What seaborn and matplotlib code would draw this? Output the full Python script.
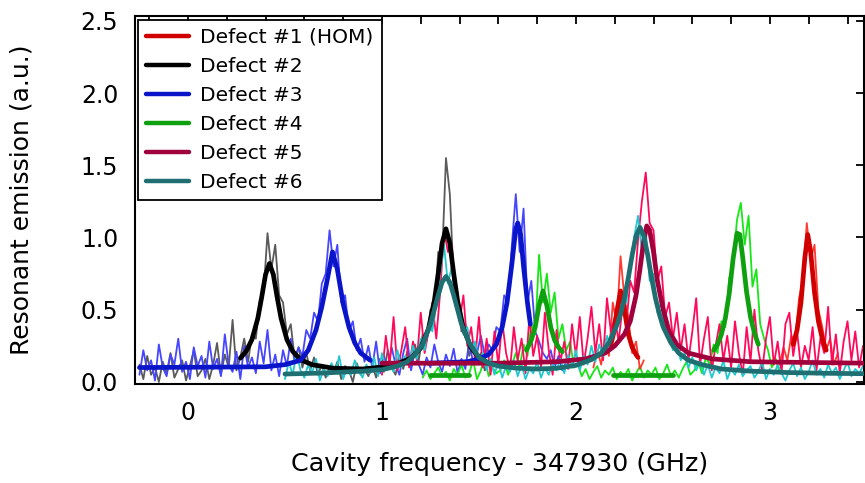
import numpy as np
import pandas as pd
import matplotlib
matplotlib.use("Agg")
import matplotlib.pyplot as plt
from matplotlib.ticker import MultipleLocator, FormatStrFormatter
import seaborn as sns

nan = float("nan")
STEP = 0.02  # spectral sampling of the measured traces (GHz)

# ---------------- measured traces (resonant emission, a.u.) ----------------
d1_data_a_x0 = 2.09
d1_data_a = [0.10, 0.22, 0.12, 0.30, 0.18, 0.55, 0.40, 0.87, 0.58, 0.45, 0.20, 0.28, 0.09, 0.15]
d1_data_b_x0 = 3.05
d1_data_b = [0.12, 0.24, 0.15, 0.32, 0.28, 0.58, 0.70, 1.10, 0.85, 0.95, 0.50, 0.38, 0.22, 0.30, 0.12, 0.20]

d2_data_x0 = -0.25
d2_data = [0.12, 0.02, 0.18, 0.05, 0.10, 0.00, 0.14, 0.06, 0.20, 0.03,
           0.09, 0.15, 0.01, 0.11, 0.22, 0.04, 0.08, 0.16, 0.02, 0.12,
           0.27, 0.05, 0.19, 0.10, 0.43, 0.08, 0.17, 0.30, 0.14, 0.33,
           0.30, 0.56, 0.62, 1.03, 0.78, 0.95, 0.60, 0.55, 0.33, 0.40,
           0.16, 0.24, 0.10, 0.20, 0.08, 0.17, 0.05, 0.12, 0.03, 0.10,
           0.06, 0.14, 0.02, 0.11, 0.08, 0.00, 0.13, 0.05, 0.09, 0.04,
           0.12, 0.03, 0.16, 0.07, 0.22, 0.10, 0.05, 0.18, 0.09, 0.21,
           0.12, 0.26, 0.15, 0.33, 0.28, 0.50, 0.44, 0.90, 0.85, 1.55,
           1.30, 0.70, 0.62, 0.35, 0.40, 0.18, 0.27, 0.12, 0.20, 0.08,
           0.15]

d3_data_x0 = -0.25
d3_data = [0.05, 0.22, 0.08, 0.15, 0.01, 0.26, 0.10, 0.04, 0.19, 0.12,
           0.30, 0.07, 0.14, 0.02, 0.24, 0.11, 0.18, 0.03, 0.28, 0.09,
           0.16, 0.04, 0.33, 0.12, 0.07, 0.21, 0.02, 0.25, 0.10, 0.17,
           0.06, 0.28, 0.13, 0.36, 0.08, 0.19, 0.04, 0.22, 0.11, 0.30,
           0.14, 0.24, 0.18, 0.36, 0.30, 0.48, 0.42, 0.68, 0.75, 1.05,
           0.80, 0.95, 0.55, 0.60, 0.35, 0.42, 0.22, 0.30, 0.14, 0.25,
           0.10, 0.28, 0.06, 0.18, 0.09, 0.24, 0.12, 0.05, 0.20, 0.30,
           0.08, 0.22, 0.12, 0.05, 0.17, 0.10, 0.26, 0.14, 0.07, 0.19,
           0.11, 0.23, 0.06, 0.16, 0.09, 0.28, 0.13, 0.20, 0.32, 0.18,
           0.26, 0.22, 0.38, 0.35, 0.60, 0.55, 0.95, 1.30, 0.90, 1.20,
           0.55, 0.70, 0.35, 0.28, 0.20, 0.16, 0.22, 0.10, 0.18, 0.08, 0.14]

d4_data_x0 = 1.21
d4_data = [0.03, 0.08, 0.02, 0.06, 0.10, 0.04, 0.07, 0.01, 0.09, 0.05,
           0.12, 0.03, 0.06, 0.15, 0.02, 0.08, 0.18, 0.04, 0.10, 0.06,
           0.08, 0.15, 0.05, 0.12, 0.20, 0.10, 0.26, 0.18, 0.40, 0.33,
           0.88, 0.55, 0.75, 0.48, 0.62, 0.30, 0.40, 0.22, 0.28, 0.10,
           0.12, 0.04, 0.09, 0.02, 0.07, 0.11, 0.03, 0.08, 0.05, 0.10,
           0.02, 0.07, 0.04, 0.09, 0.01, 0.06, 0.11, 0.03, 0.08, 0.05,
           0.10, 0.02, 0.06, 0.12, 0.04, 0.08, 0.03, 0.09, 0.14, 0.05,
           0.08, 0.14, 0.06, 0.17, 0.12, 0.26, 0.20, 0.42, 0.38, 0.72,
           0.80, 1.12, 1.24, 0.95, 1.15, 0.66, 0.78, 0.40, 0.30, 0.22,
           0.10, 0.16, 0.06]

d5_data_x0 = 1.00
d5_data = [0.05, 0.32, 0.12, 0.45, 0.08, 0.22, 0.38, 0.10, 0.28, 0.15,
           0.48, 0.20, 0.35, 0.55, 0.30, 0.62, 1.05, 0.90, 0.95, 0.55,
           0.42, 0.60, 0.25, 0.38, 0.15, 0.45, 0.10, 0.30, 0.05, 0.35,
           0.12, 0.42, 0.20, 0.08, 0.38, 0.15, 0.30, 0.06, 0.45, 0.18,
           0.32, 0.10, 0.48, 0.22, 0.05, 0.36, 0.14, 0.28, 0.09, 0.40,
           0.18, 0.45, 0.12, 0.30, 0.52, 0.20, 0.40, 0.15, 0.58, 0.35,
           0.45, 0.28, 0.52, 0.40, 0.70, 0.62, 0.98, 1.25, 1.45, 1.10,
           1.05, 0.70, 0.80, 0.45, 0.55, 0.30, 0.48, 0.22, 0.40, 0.15,
           0.35, 0.58, 0.12, 0.30, 0.45, 0.08, 0.25, 0.40, 0.15, 0.32,
           0.10, 0.42, 0.20, 0.05, 0.38, 0.14, 0.50, 0.22, 0.08, 0.30,
           0.45, 0.12, 0.28, 0.06, 0.40, 0.48, 0.18, 0.35, 0.10, 0.25,
           0.15, 0.38, 0.08, 0.30, 0.20, 0.52, 0.12, 0.33, 0.06, 0.28,
           0.42, 0.15, 0.35, 0.10, 0.25, 0.18]

d6_data_x0 = 0.50
d6_data = [0.02, 0.14, 0.05, 0.20, 0.08, 0.03, 0.12, 0.06, 0.16, 0.01,
           0.09, 0.04, 0.13, 0.07, 0.18, 0.02, 0.10, 0.05, 0.15, 0.08,
           0.03, 0.12, 0.06, 0.17, 0.04, 0.20, 0.09, 0.14, 0.07, 0.22,
           0.10, 0.18, 0.12, 0.25, 0.16, 0.30, 0.22, 0.40, 0.35, 0.58,
           0.75, 0.95, 0.68, 0.80, 0.52, 0.46, 0.33, 0.38, 0.22, 0.28,
           0.12, 0.20, 0.08, 0.16, 0.05, 0.14, 0.03, 0.11, 0.07, 0.15,
           0.04, 0.12, 0.02, 0.09, 0.06, 0.14, 0.03, 0.10, 0.05, 0.13,
           0.08, 0.16, 0.06, 0.19, 0.10, 0.22, 0.08, 0.18, 0.12, 0.25,
           0.14, 0.26, 0.18, 0.32, 0.24, 0.38, 0.45, 0.60, 0.55, 0.82,
           1.00, 1.15, 0.90, 1.05, 0.70, 0.75, 0.48, 0.55, 0.35, 0.30,
           0.22, 0.28, 0.15, 0.20, 0.10, 0.17, 0.08, 0.14, 0.05, 0.12,
           0.03, 0.10, 0.06, 0.15, 0.02, 0.09, 0.05, 0.12, 0.04, 0.08,
           0.11, 0.03, 0.07, 0.14, 0.02, 0.09, 0.05, 0.12, 0.06, 0.01,
           0.08, 0.13, 0.04, 0.10, 0.02, 0.07, 0.15, 0.05, 0.09, 0.03,
           0.12, 0.06, 0.10, 0.02, 0.08, 0.14, 0.04, 0.09, 0.06, 0.11,
           0.05]

# ---------------- fitted curves (nan separates fit segments) ----------------
d1_fit_x = [2.18, 2.195, 2.21, 2.23, 2.25, 2.27, 2.29, 2.31, 2.32, nan,
            3.12, 3.14, 3.16, 3.18, 3.195, 3.21, 3.23, 3.25, 3.27, 3.29]
d1_fit_y = [0.26, 0.34, 0.48, 0.63, 0.50, 0.33, 0.24, 0.19, 0.17, nan,
            0.26, 0.36, 0.55, 0.86, 1.02, 0.90, 0.62, 0.42, 0.30, 0.22]

d2_fit_x = [0.27, 0.30, 0.33, 0.36, 0.38, 0.40, 0.42, 0.44, 0.46,
            0.48, 0.51, 0.54, 0.58, 0.64, 0.75, 0.90, 1.05, 1.15, 1.20, 1.24, 1.27,
            1.29, 1.31, 1.33, 1.35, 1.37, 1.39, 1.42, 1.46, 1.50, 1.55]
d2_fit_y = [0.165, 0.212, 0.294, 0.44, 0.586, 0.744, 0.82, 0.744, 0.586,
            0.44, 0.294, 0.212, 0.154, 0.12, 0.095, 0.09, 0.11, 0.165, 0.235, 0.368, 0.56,
            0.75, 0.96, 1.06, 0.96, 0.75, 0.56, 0.37, 0.235, 0.17, 0.13]

d3_fit_x = [-0.25, 0.40, 0.50, 0.58, 0.62, 0.66, 0.69, 0.72, 0.745, 0.77, 0.80, 0.83,
            0.86, 0.89, 0.94, nan,
            1.24, 1.35, 1.44, 1.50, 1.55, 1.59, 1.62, 1.645, 1.67, 1.69, 1.70, 1.715,
            1.73, 1.75, 1.765]
d3_fit_y = [0.10, 0.105, 0.12, 0.15, 0.22, 0.36, 0.52, 0.72, 0.90, 0.78, 0.54, 0.38,
            0.27, 0.20, 0.15, nan,
            0.13, 0.135, 0.14, 0.16, 0.19, 0.26, 0.38, 0.55, 0.82, 1.06, 1.10, 1.02,
            0.80, 0.55, 0.40]

d4_fit_x = [1.25, 1.45, nan,
            1.745, 1.77, 1.79, 1.81, 1.83, 1.85, 1.87, 1.89, 1.91, 1.93, nan,
            2.19, 2.50, nan,
            2.71, 2.73, 2.75, 2.77, 2.79, 2.81, 2.83, 2.845, 2.86, 2.88, 2.90, 2.92, 2.94]
d4_fit_y = [0.05, 0.05, nan,
            0.22, 0.29, 0.38, 0.53, 0.63, 0.53, 0.38, 0.29, 0.24, 0.21, nan,
            0.05, 0.05, nan,
            0.22, 0.26, 0.33, 0.44, 0.61, 0.85, 1.03, 1.02, 0.86, 0.62, 0.45, 0.34, 0.26]

d5_fit_x = [1.00, 1.60, 1.90, 2.05, 2.15, 2.20, 2.25, 2.28, 2.31, 2.33, 2.35, 2.365,
            2.38, 2.40, 2.42, 2.45, 2.48, 2.52, 2.58, 2.70, 2.90, 3.50]
d5_fit_y = [0.13, 0.13, 0.14, 0.16, 0.20, 0.25, 0.33, 0.42, 0.60, 0.78, 0.98, 1.08,
            1.05, 0.90, 0.70, 0.50, 0.35, 0.26, 0.20, 0.16, 0.14, 0.13]

d6_fit_x = [0.50, 0.70, 0.90, 1.00, 1.08, 1.13, 1.17, 1.21, 1.25, 1.27, 1.29, 1.31,
            1.33, 1.35, 1.37, 1.39, 1.41, 1.45, 1.50, 1.55, 1.60, 1.70, 1.80, 1.90,
            2.00, 2.08, 2.13, 2.17, 2.21, 2.23, 2.25, 2.27, 2.29, 2.31, 2.33, 2.35,
            2.37, 2.39, 2.41, 2.43, 2.45, 2.49, 2.53, 2.58, 2.65, 2.75, 2.90, 3.10,
            3.30, 3.50]
d6_fit_y = [0.055, 0.062, 0.075, 0.085, 0.11, 0.14, 0.19, 0.26, 0.40, 0.50, 0.60, 0.69,
            0.73, 0.69, 0.60, 0.50, 0.40, 0.27, 0.17, 0.13, 0.11, 0.095, 0.09, 0.095,
            0.115, 0.155, 0.20, 0.27, 0.39, 0.47, 0.58, 0.72, 0.88, 1.01, 1.07, 1.01,
            0.88, 0.72, 0.58, 0.47, 0.38, 0.27, 0.20, 0.15, 0.12, 0.09, 0.075, 0.065,
            0.06, 0.057]

labels = ["Defect #1 (HOM)", "Defect #2", "Defect #3", "Defect #4", "Defect #5", "Defect #6"]
fit_colors = ["#D00000", "#000000", "#0A14C8", "#0FA00F", "#A0003C", "#1E6E72"]
data_colors = ["#FF3A30", "#5A5A5A", "#4646FF", "#19E619", "#FF0A5A", "#23C8CF"]

x_ticks = [0, 1, 2, 3]
x_limits = (-0.273, 3.485)
y_limits = (-0.014, 2.533)

# ---------------- figure ----------------
sns.set_style("white")
plt.rcParams["font.family"] = ["DejaVu Sans"]
plt.rcParams["text.color"] = "black"
plt.rcParams["axes.labelcolor"] = "black"

fig = plt.figure(figsize=(8.65, 4.83), dpi=100)
ax = fig.add_axes([135 / 865, 1 - 384 / 483, (864 - 135) / 865, (384 - 16) / 483])


def grid_x(x0, ys):
    return np.round(x0 + STEP * np.arange(len(ys)), 4)


def segments(xs, ys):
    xs = np.asarray(xs, float)
    ys = np.asarray(ys, float)
    brk = np.where(np.isnan(xs))[0]
    out = []
    start = 0
    for b in list(brk) + [len(xs)]:
        if b > start:
            out.append((xs[start:b], ys[start:b]))
        start = b + 1
    return out


data_traces = [
    (1, d2_data_x0, d2_data, 2.0),
    (2, d3_data_x0, d3_data, 2.1),
    (3, d4_data_x0, d4_data, 2.2),
    (0, d1_data_a_x0, d1_data_a, 2.3),
    (0, d1_data_b_x0, d1_data_b, 2.3),
    (4, d5_data_x0, d5_data, 2.4),
    (5, d6_data_x0, d6_data, 2.5),
]
for idx, x0, ys, z in data_traces:
    df = pd.DataFrame({"x": grid_x(x0, ys), "y": ys})
    sns.lineplot(data=df, x="x", y="y", ax=ax, color=data_colors[idx], lw=1.3,
                 estimator=None, sort=False, zorder=z)

fits = [
    (1, d2_fit_x, d2_fit_y, 3.0),
    (2, d3_fit_x, d3_fit_y, 3.1),
    (3, d4_fit_x, d4_fit_y, 3.2),
    (0, d1_fit_x, d1_fit_y, 3.3),
    (4, d5_fit_x, d5_fit_y, 3.4),
    (5, d6_fit_x, d6_fit_y, 3.5),
]
for idx, fx, fy, z in fits:
    for sx, sy in segments(fx, fy):
        df = pd.DataFrame({"x": sx, "y": sy})
        sns.lineplot(data=df, x="x", y="y", ax=ax, color=fit_colors[idx], lw=3.4,
                     estimator=None, sort=False, zorder=z, solid_capstyle="round")

handles = [plt.Line2D([], [], color=c, lw=3.2) for c in fit_colors]
leg = ax.legend(handles, labels, loc="upper left", bbox_to_anchor=(0.004, 0.99),
                borderaxespad=0, fontsize=14.5, handlelength=2.15, handletextpad=0.55,
                labelspacing=0.5, frameon=True, fancybox=False, borderpad=0.4)
leg.get_frame().set_edgecolor("black")
leg.get_frame().set_linewidth(1.3)
leg.get_frame().set_facecolor("white")
leg.get_frame().set_alpha(1)
leg.set_zorder(10)
for t in leg.get_texts():
    t.set_color("black")

ax.set_xlim(*x_limits)
ax.set_ylim(*y_limits)
ax.xaxis.set_major_locator(plt.FixedLocator(x_ticks))
ax.xaxis.set_minor_locator(MultipleLocator(0.2))
ax.yaxis.set_major_locator(MultipleLocator(0.5))
ax.yaxis.set_major_formatter(FormatStrFormatter("%.1f"))
ax.tick_params(which="both", direction="in", top=True, right=True, length=6, width=1.3,
               colors="black", labelsize=17)
ax.tick_params(axis="x", which="major", pad=12)
ax.tick_params(axis="y", which="major", pad=12)
for s in ax.spines.values():
    s.set_linewidth(1.5)
    s.set_color("black")

ax.set_xlabel("Cavity frequency - 347930 (GHz)", fontsize=18.3, labelpad=20, color="black")
ax.set_ylabel("Resonant emission (a.u.)", fontsize=18, labelpad=34, color="black")

fig.savefig("out.png", dpi=100)
